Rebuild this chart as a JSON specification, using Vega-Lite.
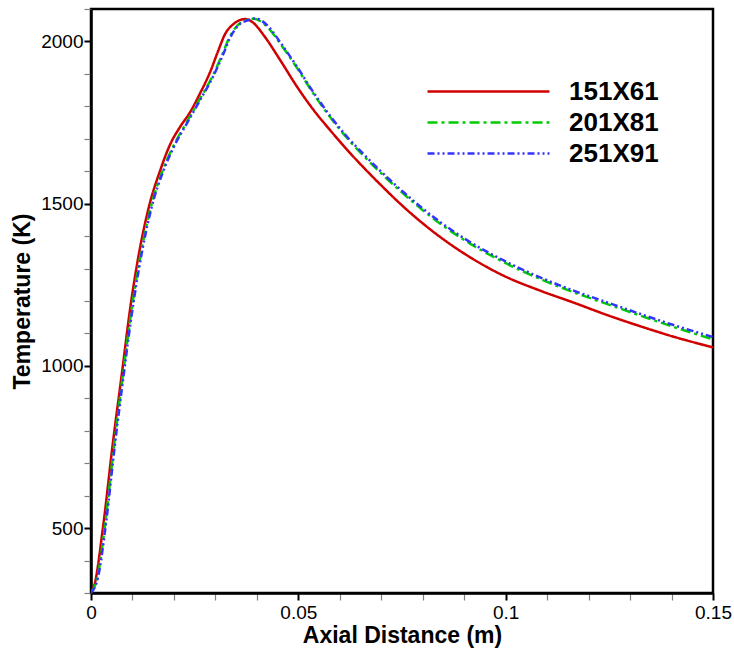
{
  "$schema": "https://vega.github.io/schema/vega-lite/v6.json",
  "width": 622,
  "height": 584,
  "autosize": "none",
  "padding": {"left": 91, "top": 9, "right": 21, "bottom": 55},
  "background": "white",
  "config": {
    "view": {"stroke": "black", "strokeWidth": 2.5},
    "font": "Liberation Sans"
  },
  "data": {"values": [
    {"grid":"151X61","x":0.0000,"T":300},
    {"grid":"151X61","x":0.0009,"T":329},
    {"grid":"151X61","x":0.0029,"T":503},
    {"grid":"151X61","x":0.0053,"T":765},
    {"grid":"151X61","x":0.0073,"T":962},
    {"grid":"151X61","x":0.0097,"T":1200},
    {"grid":"151X61","x":0.0112,"T":1320},
    {"grid":"151X61","x":0.0140,"T":1492},
    {"grid":"151X61","x":0.0167,"T":1603},
    {"grid":"151X61","x":0.0191,"T":1683},
    {"grid":"151X61","x":0.0215,"T":1737},
    {"grid":"151X61","x":0.0239,"T":1782},
    {"grid":"151X61","x":0.0263,"T":1840},
    {"grid":"151X61","x":0.0287,"T":1905},
    {"grid":"151X61","x":0.0307,"T":1972},
    {"grid":"151X61","x":0.0323,"T":2022},
    {"grid":"151X61","x":0.0343,"T":2053},
    {"grid":"151X61","x":0.0372,"T":2069},
    {"grid":"151X61","x":0.0391,"T":2058},
    {"grid":"151X61","x":0.0416,"T":2020},
    {"grid":"151X61","x":0.0456,"T":1943},
    {"grid":"151X61","x":0.0496,"T":1862},
    {"grid":"151X61","x":0.0536,"T":1790},
    {"grid":"151X61","x":0.0577,"T":1726},
    {"grid":"151X61","x":0.0617,"T":1667},
    {"grid":"151X61","x":0.0657,"T":1612},
    {"grid":"151X61","x":0.0697,"T":1560},
    {"grid":"151X61","x":0.0754,"T":1490},
    {"grid":"151X61","x":0.0834,"T":1405},
    {"grid":"151X61","x":0.0914,"T":1335},
    {"grid":"151X61","x":0.0995,"T":1278},
    {"grid":"151X61","x":0.1083,"T":1232},
    {"grid":"151X61","x":0.1164,"T":1195},
    {"grid":"151X61","x":0.1244,"T":1157},
    {"grid":"151X61","x":0.1325,"T":1122},
    {"grid":"151X61","x":0.1405,"T":1090},
    {"grid":"151X61","x":0.1500,"T":1057},

    {"grid":"201X81","x":0.0000,"T":300},
    {"grid":"201X81","x":0.0015,"T":345},
    {"grid":"201X81","x":0.0035,"T":522},
    {"grid":"201X81","x":0.0055,"T":748},
    {"grid":"201X81","x":0.0075,"T":953},
    {"grid":"201X81","x":0.0101,"T":1200},
    {"grid":"201X81","x":0.0144,"T":1488},
    {"grid":"201X81","x":0.0173,"T":1603},
    {"grid":"201X81","x":0.0197,"T":1673},
    {"grid":"201X81","x":0.0229,"T":1747},
    {"grid":"201X81","x":0.0261,"T":1819},
    {"grid":"201X81","x":0.0293,"T":1893},
    {"grid":"201X81","x":0.0317,"T":1961},
    {"grid":"201X81","x":0.0333,"T":2010},
    {"grid":"201X81","x":0.0353,"T":2049},
    {"grid":"201X81","x":0.0377,"T":2066},
    {"grid":"201X81","x":0.0392,"T":2070},
    {"grid":"201X81","x":0.0430,"T":2038},
    {"grid":"201X81","x":0.0456,"T":1994},
    {"grid":"201X81","x":0.0496,"T":1920},
    {"grid":"201X81","x":0.0536,"T":1840},
    {"grid":"201X81","x":0.0577,"T":1766},
    {"grid":"201X81","x":0.0617,"T":1703},
    {"grid":"201X81","x":0.0657,"T":1648},
    {"grid":"201X81","x":0.0697,"T":1597},
    {"grid":"201X81","x":0.0754,"T":1530},
    {"grid":"201X81","x":0.0834,"T":1446},
    {"grid":"201X81","x":0.0914,"T":1377},
    {"grid":"201X81","x":0.0995,"T":1320},
    {"grid":"201X81","x":0.1083,"T":1268},
    {"grid":"201X81","x":0.1164,"T":1227},
    {"grid":"201X81","x":0.1244,"T":1191},
    {"grid":"201X81","x":0.1325,"T":1155},
    {"grid":"201X81","x":0.1405,"T":1120},
    {"grid":"201X81","x":0.1500,"T":1082},

    {"grid":"251X91","x":0.0000,"T":300},
    {"grid":"251X91","x":0.0017,"T":349},
    {"grid":"251X91","x":0.0037,"T":524},
    {"grid":"251X91","x":0.0057,"T":750},
    {"grid":"251X91","x":0.0077,"T":955},
    {"grid":"251X91","x":0.0103,"T":1200},
    {"grid":"251X91","x":0.0146,"T":1488},
    {"grid":"251X91","x":0.0175,"T":1603},
    {"grid":"251X91","x":0.0199,"T":1673},
    {"grid":"251X91","x":0.0231,"T":1747},
    {"grid":"251X91","x":0.0263,"T":1819},
    {"grid":"251X91","x":0.0295,"T":1893},
    {"grid":"251X91","x":0.0319,"T":1961},
    {"grid":"251X91","x":0.0335,"T":2010},
    {"grid":"251X91","x":0.0355,"T":2049},
    {"grid":"251X91","x":0.0380,"T":2066},
    {"grid":"251X91","x":0.0396,"T":2071},
    {"grid":"251X91","x":0.0432,"T":2040},
    {"grid":"251X91","x":0.0456,"T":1998},
    {"grid":"251X91","x":0.0496,"T":1924},
    {"grid":"251X91","x":0.0536,"T":1844},
    {"grid":"251X91","x":0.0577,"T":1770},
    {"grid":"251X91","x":0.0617,"T":1707},
    {"grid":"251X91","x":0.0657,"T":1653},
    {"grid":"251X91","x":0.0697,"T":1602},
    {"grid":"251X91","x":0.0754,"T":1535},
    {"grid":"251X91","x":0.0834,"T":1451},
    {"grid":"251X91","x":0.0914,"T":1382},
    {"grid":"251X91","x":0.0995,"T":1325},
    {"grid":"251X91","x":0.1083,"T":1273},
    {"grid":"251X91","x":0.1164,"T":1232},
    {"grid":"251X91","x":0.1244,"T":1196},
    {"grid":"251X91","x":0.1325,"T":1160},
    {"grid":"251X91","x":0.1405,"T":1126},
    {"grid":"251X91","x":0.1500,"T":1089}
  ]},
  "mark": {"type": "line", "interpolate": "monotone", "strokeWidth": 2.5, "clip": true},
  "encoding": {
    "x": {
      "field": "x", "type": "quantitative",
      "scale": {"domain": [0, 0.15], "nice": false, "zero": false},
      "axis": {
        "title": "Axial Distance (m)",
        "values": [0,0.01,0.02,0.03,0.04,0.05,0.06,0.07,0.08,0.09,0.1,0.11,0.12,0.13,0.14,0.15],
        "labelExpr": "round(datum.value*100) % 5 == 0 ? toString(round(datum.value*100)/100) : ''",
        "grid": false,
        "domainColor": "black", "domainWidth": 2.5,
        "tickSize": 7,
        "tickColor": {"condition": {"test": "round(datum.value*100) % 5 == 0", "value": "black"}, "value": "#808080"},
        "tickWidth": {"condition": {"test": "round(datum.value*100) % 5 == 0", "value": 2}, "value": 1.2},
        "labelFont": "Liberation Sans", "labelFontSize": 19, "labelColor": "black",
        "labelPadding": 3, "labelFlush": false, "labelOverlap": false,
        "titleFont": "Liberation Sans", "titleFontSize": 23, "titleFontWeight": "bold", "titleColor": "black",
        "titlePadding": 2
      }
    },
    "y": {
      "field": "T", "type": "quantitative",
      "scale": {"domain": [300, 2100], "nice": false, "zero": false},
      "axis": {
        "title": "Temperature (K)",
        "values": [300,400,500,600,700,800,900,1000,1100,1200,1300,1400,1500,1600,1700,1800,1900,2000,2100],
        "labelExpr": "datum.value % 500 == 0 ? toString(datum.value) : ''",
        "grid": false,
        "domainColor": "black", "domainWidth": 2.5,
        "tickSize": 7,
        "tickColor": {"condition": {"test": "datum.value % 500 == 0", "value": "black"}, "value": "#808080"},
        "tickWidth": {"condition": {"test": "datum.value % 500 == 0", "value": 2}, "value": 1.2},
        "labelFont": "Liberation Sans", "labelFontSize": 19, "labelColor": "black",
        "labelPadding": 1, "labelFlush": false, "labelOverlap": false,
        "titleFont": "Liberation Sans", "titleFontSize": 23, "titleFontWeight": "bold", "titleColor": "black",
        "titlePadding": 6
      }
    },
    "color": {
      "field": "grid", "type": "nominal",
      "scale": {"domain": ["151X61","201X81","251X91"], "range": ["#d00000","#00cc00","#3333ff"]},
      "legend": {
        "title": null, "orient": "none", "legendX": 384, "legendY": 69,
        "symbolType": "M-5,0H5", "symbolSize": 595, "symbolStrokeWidth": 2.5,
        "labelFont": "Liberation Sans", "labelFontSize": 26, "labelFontWeight": "bold", "labelColor": "black",
        "labelOffset": 67, "rowPadding": 4
      }
    },
    "strokeDash": {
      "field": "grid", "type": "nominal",
      "scale": {"domain": ["151X61","201X81","251X91"], "range": [[1,0],[10,4,3,4],[7,3,2,3,2,3]]},
      "legend": {
        "title": null, "orient": "none", "legendX": 384, "legendY": 69,
        "symbolType": "M-5,0H5", "symbolSize": 595, "symbolStrokeWidth": 2.5,
        "labelFont": "Liberation Sans", "labelFontSize": 26, "labelFontWeight": "bold", "labelColor": "black",
        "labelOffset": 67, "rowPadding": 4
      }
    }
  }
}
